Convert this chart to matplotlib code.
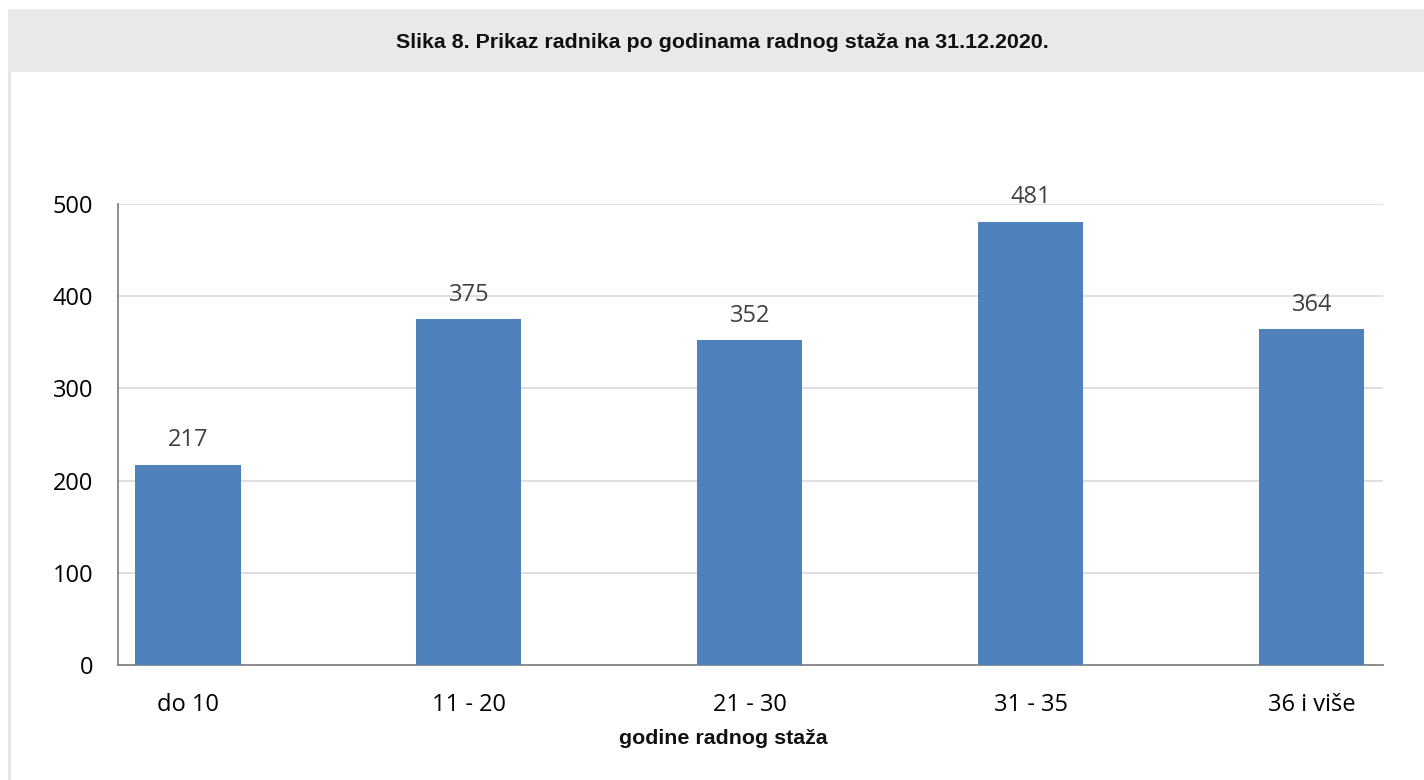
import matplotlib
matplotlib.use("Agg")
import matplotlib.pyplot as plt
from matplotlib.patches import Rectangle

# data
categories = ["do 10", "11 - 20", "21 - 30", "31 - 35", "36 i više"]
workers = [217, 375, 352, 481, 364]
yticks = [0, 100, 200, 300, 400, 500]

title = "Slika 8. Prikaz radnika po godinama radnog staža na 31.12.2020."
xlabel = "godine radnog staža"

bar_color = "#4f81bd"
label_font = "Open Sans"
head_font = "Liberation Sans"

fig = plt.figure(figsize=(14.24, 7.8), dpi=100)
W, H = 1424, 780

# grey header band and left frame line
fig.patches.append(Rectangle((8 / W, 1 - 72 / H), 1 - 8 / W, 63 / H,
                             transform=fig.transFigure, facecolor="#e9e9e9",
                             edgecolor="none", zorder=0))
fig.patches.append(Rectangle((8 / W, 0), 3 / W, 1 - 72 / H,
                             transform=fig.transFigure, facecolor="#e6e6e6",
                             edgecolor="none", zorder=0))
fig.text(722 / W, 1 - 42 / H, title, ha="center", va="center",
         fontsize=15.4, fontweight="bold", family=head_font, color="#111111")

ax = fig.add_axes([118 / W, 1 - 665 / H, (1383 - 118) / W, (665 - 204) / H])
x = list(range(len(categories)))
bars = ax.bar(x, workers, width=0.374, color=bar_color, zorder=3)

for xi, v in zip(x, workers):
    ax.annotate(str(v), (xi, v), xytext=(0, 9), textcoords="offset points",
                ha="center", va="bottom", fontsize=17, family=label_font,
                color="#404040", zorder=4)

ax.set_xlim(-0.249, 4.253)
ax.set_ylim(0, 500)
ax.set_yticks(yticks)
ax.set_xticks(x)
ax.set_xticklabels(categories)
ax.tick_params(axis="both", length=0, labelsize=17)
ax.tick_params(axis="y", pad=18)
ax.tick_params(axis="x", pad=20)
for lab in ax.get_xticklabels() + ax.get_yticklabels():
    lab.set_family(label_font)
    lab.set_color("#000000")

ax.grid(axis="y", color="#d9d9d9", linewidth=1.2, zorder=0)
ax.set_axisbelow(True)
for side in ["top", "right"]:
    ax.spines[side].set_visible(False)
for side in ["left", "bottom"]:
    ax.spines[side].set_color("#868686")
    ax.spines[side].set_linewidth(1.3)

fig.text(723 / W, 1 - 738 / H, xlabel, ha="center", va="center",
         fontsize=15.4, fontweight="bold", family=head_font, color="#111111")

fig.savefig("out.png", dpi=100)
